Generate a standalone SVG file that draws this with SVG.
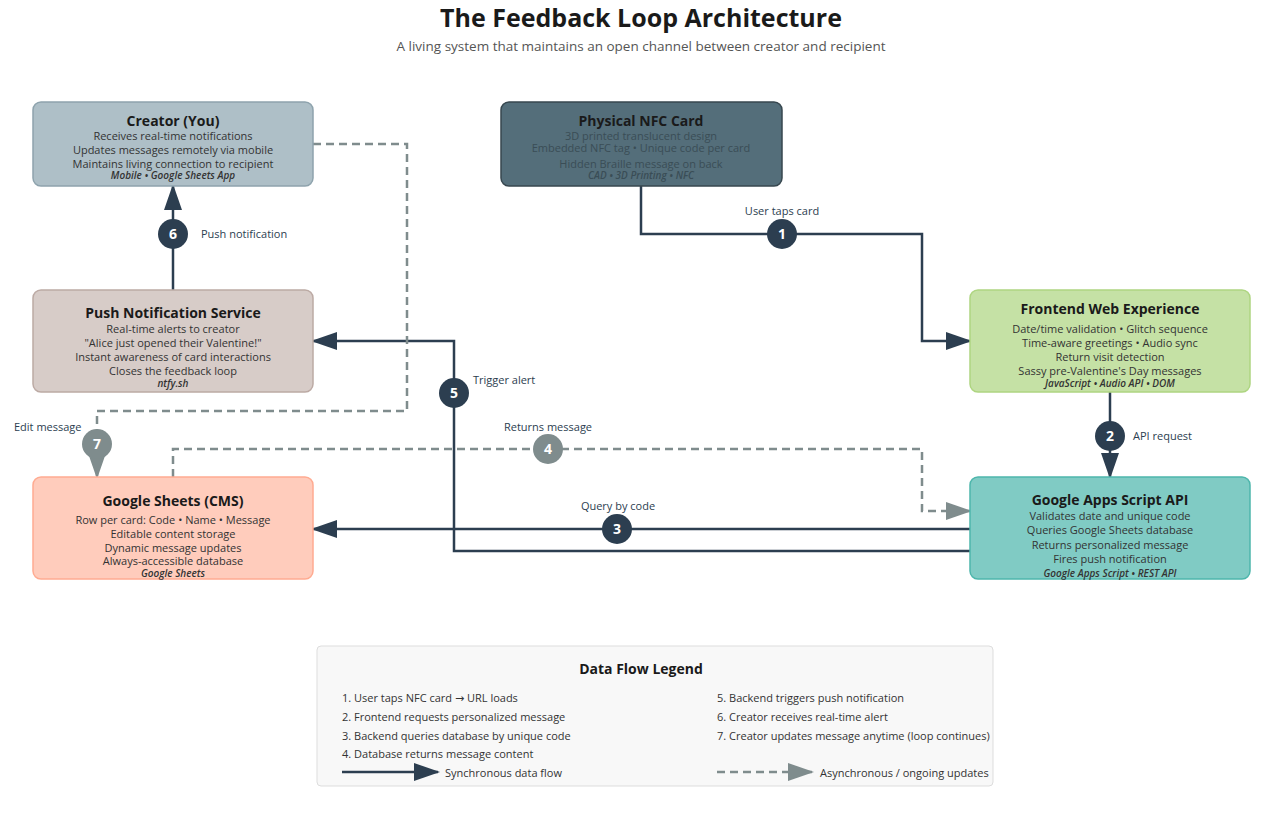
<svg xmlns="http://www.w3.org/2000/svg" width="1280" height="820" viewBox="0 0 1280 820">
<style>
text{font-family:"Open Sans","Noto Sans","DejaVu Sans",sans-serif;text-anchor:middle}
.t{font-size:14px;font-weight:bold;fill:#1a1a1a}
.d{font-size:11px;fill:#333}
.i{font-size:10px;font-style:italic;font-weight:600;fill:#333}
.box{stroke-width:1.5}
.s{fill:none;stroke:#2c3e50;stroke-width:2.5}
.a{fill:none;stroke:#7f8c8d;stroke-width:2.5;stroke-dasharray:8,5}
.bs{fill:#2c3e50}.ba{fill:#7f8c8d}
.bn{font-size:14px;font-weight:bold;fill:#fff}
.l{font-size:11px;fill:#2c3e50;text-anchor:start}
.lg{font-size:11px;fill:#333;text-anchor:start}
</style>
<defs>
<marker id="ms" markerUnits="userSpaceOnUse" markerWidth="26" markerHeight="18" refX="24" refY="9" orient="auto"><path d="M0,0 L26,9 L0,18 Z" fill="#2c3e50"/></marker>
<marker id="ma" markerUnits="userSpaceOnUse" markerWidth="26" markerHeight="18" refX="24" refY="9" orient="auto"><path d="M0,0 L26,9 L0,18 Z" fill="#7f8c8d"/></marker>
</defs>
<rect width="1280" height="820" fill="#fff"/>
<text x="641" y="27" style="font-size:25px;font-weight:bold;fill:#1a1a1a">The Feedback Loop Architecture</text>
<text x="641" y="51" style="font-size:13.5px;fill:#555">A living system that maintains an open channel between creator and recipient</text>

<g id="connectors">
<path class="s" d="M641,186 V234 H922 V341 H970" marker-end="url(#ms)"/>
<path class="s" d="M1110,392 V477" marker-end="url(#ms)"/>
<path class="s" d="M970,529 H313" marker-end="url(#ms)"/>
<path class="s" d="M970,551 H454 V341 H313" marker-end="url(#ms)"/>
<path class="s" d="M173,290 V186" marker-end="url(#ms)"/>
<path class="a" d="M173,477 V449 H922 V511 H970" marker-end="url(#ma)"/>
<path class="a" d="M313,144 H407 V411 H97 V477" marker-end="url(#ma)"/>
<circle class="bs" cx="782" cy="234" r="15"/><text class="bn" x="782" y="239">1</text>
<text class="l" x="782" y="215" style="text-anchor:middle">User taps card</text>
<circle class="bs" cx="1110" cy="436" r="15"/><text class="bn" x="1110" y="441">2</text>
<text class="l" x="1133" y="440">API request</text>
<circle class="bs" cx="617" cy="529" r="15"/><text class="bn" x="617" y="534">3</text>
<text class="l" x="618" y="510" style="text-anchor:middle">Query by code</text>
<circle class="ba" cx="548" cy="449" r="15"/><text class="bn" x="548" y="454">4</text>
<text class="l" x="548" y="431" style="text-anchor:middle">Returns message</text>
<circle class="bs" cx="454" cy="393" r="15"/><text class="bn" x="454" y="398">5</text>
<text class="l" x="473" y="384">Trigger alert</text>
<circle class="bs" cx="173" cy="234" r="15"/><text class="bn" x="173" y="239">6</text>
<text class="l" x="201" y="238">Push notification</text>
<circle class="ba" cx="97" cy="444" r="15"/><text class="bn" x="97" y="449">7</text>
<text class="l" x="14" y="431">Edit message</text>
</g>

<g id="creator">
<rect class="box" x="33" y="102" width="280" height="84" rx="8" fill="#aebfc7" stroke="#8ea3ad"/>
<text class="t" x="173" y="126">Creator (You)</text>
<text class="d" x="173" y="139.5">Receives real-time notifications</text>
<text class="d" x="173" y="153.5">Updates messages remotely via mobile</text>
<text class="d" x="173" y="167.5">Maintains living connection to recipient</text>
<text class="i" x="173" y="179">Mobile • Google Sheets App</text>
</g>
<g id="nfc">
<rect class="box" x="501" y="102" width="281" height="84" rx="8" fill="#546e7a" stroke="#37474f"/>
<text class="t" x="641" y="126">Physical NFC Card</text>
<text class="d" x="641" y="139.5" style="fill:#3a4d56">3D printed translucent design</text>
<text class="d" x="641" y="151.5" style="fill:#3a4d56">Embedded NFC tag • Unique code per card</text>
<text class="d" x="641" y="167.5" style="fill:#3a4d56">Hidden Braille message on back</text>
<text class="i" x="641" y="179" style="fill:#3a4d56">CAD • 3D Printing • NFC</text>
</g>
<g id="push">
<rect class="box" x="33" y="290" width="280" height="102" rx="8" fill="#d7ccc8" stroke="#bcaaa4"/>
<text class="t" x="173" y="318">Push Notification Service</text>
<text class="d" x="173" y="333">Real-time alerts to creator</text>
<text class="d" x="173" y="347">"Alice just opened their Valentine!"</text>
<text class="d" x="173" y="361">Instant awareness of card interactions</text>
<text class="d" x="173" y="375">Closes the feedback loop</text>
<text class="i" x="173" y="387">ntfy.sh</text>
</g>
<g id="frontend">
<rect class="box" x="970" y="290" width="280" height="102" rx="8" fill="#c5e1a5" stroke="#aed581"/>
<text class="t" x="1110" y="314">Frontend Web Experience</text>
<text class="d" x="1110" y="333">Date/time validation • Glitch sequence</text>
<text class="d" x="1110" y="347">Time-aware greetings • Audio sync</text>
<text class="d" x="1110" y="361">Return visit detection</text>
<text class="d" x="1110" y="375">Sassy pre-Valentine's Day messages</text>
<text class="i" x="1110" y="387">JavaScript • Audio API • DOM</text>
</g>
<g id="sheets">
<rect class="box" x="33" y="477" width="280" height="102" rx="8" fill="#ffccbc" stroke="#ffab91"/>
<text class="t" x="173" y="506">Google Sheets (CMS)</text>
<text class="d" x="173" y="524">Row per card: Code • Name • Message</text>
<text class="d" x="173" y="538">Editable content storage</text>
<text class="d" x="173" y="552">Dynamic message updates</text>
<text class="d" x="173" y="565">Always-accessible database</text>
<text class="i" x="173" y="577">Google Sheets</text>
</g>
<g id="gas">
<rect class="box" x="970" y="477" width="280" height="102" rx="8" fill="#80cbc4" stroke="#4db6ac"/>
<text class="t" x="1110" y="505">Google Apps Script API</text>
<text class="d" x="1110" y="520">Validates date and unique code</text>
<text class="d" x="1110" y="534">Queries Google Sheets database</text>
<text class="d" x="1110" y="549">Returns personalized message</text>
<text class="d" x="1110" y="563">Fires push notification</text>
<text class="i" x="1110" y="577">Google Apps Script • REST API</text>
</g>
<g id="legend">
<rect x="317" y="646" width="676" height="140" rx="4" fill="#f8f8f8" stroke="#ddd"/>
<text x="641" y="674" style="font-size:14px;font-weight:bold;fill:#1a1a1a">Data Flow Legend</text>
<text class="lg" x="342" y="702">1. User taps NFC card → URL loads</text>
<text class="lg" x="342" y="721">2. Frontend requests personalized message</text>
<text class="lg" x="342" y="740">3. Backend queries database by unique code</text>
<text class="lg" x="342" y="758">4. Database returns message content</text>
<text class="lg" x="717" y="702">5. Backend triggers push notification</text>
<text class="lg" x="717" y="721">6. Creator receives real-time alert</text>
<text class="lg" x="717" y="740">7. Creator updates message anytime (loop continues)</text>
<path class="s" d="M342,772 H438" marker-end="url(#ms)"/>
<text class="lg" x="445" y="777">Synchronous data flow</text>
<path class="a" d="M717,772 H812" marker-end="url(#ma)"/>
<text class="lg" x="820" y="777">Asynchronous / ongoing updates</text>
</g>
</svg>
